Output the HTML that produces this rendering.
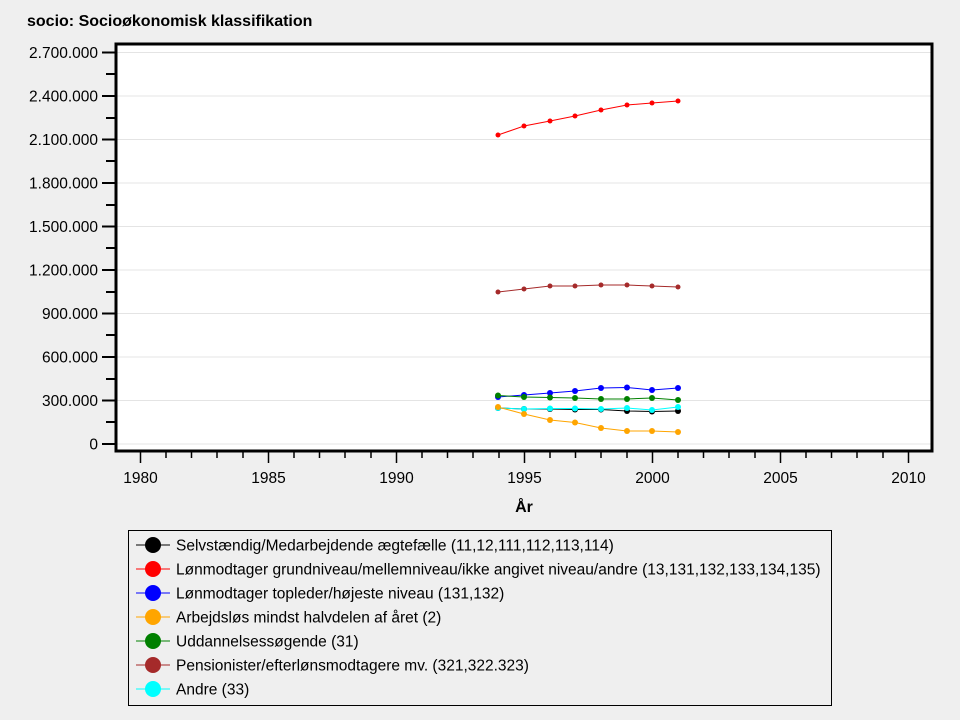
<!DOCTYPE html>
<html><head><meta charset="utf-8"><style>
body{margin:0;background:#efefef;}
svg{display:block;font-family:"Liberation Sans",Arial,sans-serif;}
</style></head><body>
<svg width="960" height="720" xmlns="http://www.w3.org/2000/svg">
<rect width="960" height="720" fill="#efefef"/>
<text x="27" y="26" font-size="16" font-weight="bold">socio: Socioøkonomisk klassifikation</text>
<rect x="116" y="44" width="816" height="407" fill="#fff"/>
<g stroke="#e4e4e4" stroke-width="1">
<line x1="117" x2="931" y1="52.5" y2="52.5"/><line x1="117" x2="931" y1="96" y2="96"/>
<line x1="117" x2="931" y1="139.5" y2="139.5"/><line x1="117" x2="931" y1="183" y2="183"/>
<line x1="117" x2="931" y1="226.5" y2="226.5"/><line x1="117" x2="931" y1="270" y2="270"/>
<line x1="117" x2="931" y1="313.5" y2="313.5"/><line x1="117" x2="931" y1="357" y2="357"/>
<line x1="117" x2="931" y1="400.5" y2="400.5"/><line x1="117" x2="931" y1="444" y2="444"/>
</g>
<rect x="116" y="44" width="816" height="407" fill="none" stroke="#000" stroke-width="3"/>
<g stroke="#000" stroke-width="2">
<line x1="102" x2="115" y1="52.5" y2="52.5"/><line x1="106" x2="115" y1="74" y2="74"/>
<line x1="102" x2="115" y1="96" y2="96"/><line x1="106" x2="115" y1="118" y2="118"/>
<line x1="102" x2="115" y1="139.5" y2="139.5"/><line x1="106" x2="115" y1="161" y2="161"/>
<line x1="102" x2="115" y1="183" y2="183"/><line x1="106" x2="115" y1="205" y2="205"/>
<line x1="102" x2="115" y1="226.5" y2="226.5"/><line x1="106" x2="115" y1="248" y2="248"/>
<line x1="102" x2="115" y1="270" y2="270"/><line x1="106" x2="115" y1="292" y2="292"/>
<line x1="102" x2="115" y1="313.5" y2="313.5"/><line x1="106" x2="115" y1="335" y2="335"/>
<line x1="102" x2="115" y1="357" y2="357"/><line x1="106" x2="115" y1="379" y2="379"/>
<line x1="102" x2="115" y1="400.5" y2="400.5"/><line x1="106" x2="115" y1="422" y2="422"/>
<line x1="102" x2="115" y1="444" y2="444"/>
</g>
<g font-size="15.5" text-anchor="end">
<text x="98" y="58">2.700.000</text><text x="98" y="101.5">2.400.000</text>
<text x="98" y="145">2.100.000</text><text x="98" y="188.5">1.800.000</text>
<text x="98" y="232">1.500.000</text><text x="98" y="275.5">1.200.000</text>
<text x="98" y="319">900.000</text><text x="98" y="362.5">600.000</text>
<text x="98" y="406">300.000</text><text x="98" y="449.5">0</text>
</g>
<g stroke="#000" stroke-width="1.5">
<line x1="140.5" x2="140.5" y1="452" y2="463"/><line x1="268.5" x2="268.5" y1="452" y2="463"/>
<line x1="396.5" x2="396.5" y1="452" y2="463"/><line x1="524.5" x2="524.5" y1="452" y2="463"/>
<line x1="652.5" x2="652.5" y1="452" y2="463"/><line x1="780.5" x2="780.5" y1="452" y2="463"/>
<line x1="908.5" x2="908.5" y1="452" y2="463"/>
<path d="M166 452v6M191.5 452v6M217 452v6M243 452v6M294 452v6M319.5 452v6M345 452v6M371 452v6M422 452v6M447.5 452v6M473 452v6M499 452v6M550 452v6M575.5 452v6M601 452v6M627 452v6M678 452v6M703.5 452v6M729 452v6M755 452v6M806 452v6M831.5 452v6M857 452v6M883 452v6"/>
</g>
<g font-size="15.5" text-anchor="middle">
<text x="140.5" y="483">1980</text><text x="268.5" y="483">1985</text><text x="396.5" y="483">1990</text>
<text x="524.5" y="483">1995</text><text x="652.5" y="483">2000</text><text x="780.5" y="483">2005</text><text x="908.5" y="483">2010</text>
</g>
<text x="524" y="512" font-size="16" font-weight="bold" text-anchor="middle">År</text>
<g fill="none" stroke-width="1">
<polyline stroke="#f00" points="498,135 524,126 550,121 575,116 601,110 627,105 652,103 678,101"/>
<polyline stroke="#a52a2a" points="498,292 524,289 550,286 575,286 601,285 627,285 652,286 678,287"/>
<polyline stroke="#00f" points="498,397 524,395 550,393 575,391 601,388 627,387.5 652,390 678,388"/>
<polyline stroke="#008000" points="498,395.5 524,397 550,397.5 575,398 601,399 627,399 652,398 678,400"/>
<polyline stroke="#000" points="498,408 524,409 550,409 575,409.5 601,409.5 627,411 652,411.5 678,411"/>
<polyline stroke="#0ff" points="498,408 524,409 550,408.5 575,408.5 601,409 627,408 652,410 678,407"/>
<polyline stroke="#ffa500" points="498,407 524,414 550,420 575,422.5 601,428 627,431 652,431 678,432"/>
</g>
<g stroke="none">
<g fill="#f00"><circle cx="498" cy="135" r="2.5"/><circle cx="524" cy="126" r="2.5"/><circle cx="550" cy="121" r="2.5"/><circle cx="575" cy="116" r="2.5"/><circle cx="601" cy="110" r="2.5"/><circle cx="627" cy="105" r="2.5"/><circle cx="652" cy="103" r="2.5"/><circle cx="678" cy="101" r="2.5"/></g>
<g fill="#a52a2a"><circle cx="498" cy="292" r="2.5"/><circle cx="524" cy="289" r="2.5"/><circle cx="550" cy="286" r="2.5"/><circle cx="575" cy="286" r="2.5"/><circle cx="601" cy="285" r="2.5"/><circle cx="627" cy="285" r="2.5"/><circle cx="652" cy="286" r="2.5"/><circle cx="678" cy="287" r="2.5"/></g>
<g fill="#00f"><circle cx="498" cy="397" r="3"/><circle cx="524" cy="395" r="3"/><circle cx="550" cy="393" r="3"/><circle cx="575" cy="391" r="3"/><circle cx="601" cy="388" r="3"/><circle cx="627" cy="387.5" r="3"/><circle cx="652" cy="390" r="3"/><circle cx="678" cy="388" r="3"/></g>
<g fill="#008000"><circle cx="498" cy="395.5" r="3"/><circle cx="524" cy="397" r="3"/><circle cx="550" cy="397.5" r="3"/><circle cx="575" cy="398" r="3"/><circle cx="601" cy="399" r="3"/><circle cx="627" cy="399" r="3"/><circle cx="652" cy="398" r="3"/><circle cx="678" cy="400" r="3"/></g>
<g fill="#000"><circle cx="498" cy="408" r="3"/><circle cx="524" cy="409" r="3"/><circle cx="550" cy="409" r="3"/><circle cx="575" cy="409.5" r="3"/><circle cx="601" cy="409.5" r="3"/><circle cx="627" cy="411" r="3"/><circle cx="652" cy="411.5" r="3"/><circle cx="678" cy="411" r="3"/></g>
<g fill="#0ff"><circle cx="498" cy="408" r="3"/><circle cx="524" cy="409" r="3"/><circle cx="550" cy="408.5" r="3"/><circle cx="575" cy="408.5" r="3"/><circle cx="601" cy="409" r="3"/><circle cx="627" cy="408" r="3"/><circle cx="652" cy="410" r="3"/><circle cx="678" cy="407" r="3"/></g>
<g fill="#ffa500"><circle cx="498" cy="407" r="3"/><circle cx="524" cy="414" r="3"/><circle cx="550" cy="420" r="3"/><circle cx="575" cy="422.5" r="3"/><circle cx="601" cy="428" r="3"/><circle cx="627" cy="431" r="3"/><circle cx="652" cy="431" r="3"/><circle cx="678" cy="432" r="3"/></g>
</g>
<rect x="128.5" y="530.5" width="703" height="175" fill="none" stroke="#000" stroke-width="1"/>
<g font-size="15.5">
<g transform="translate(0,545)"><line x1="136" x2="170" stroke="#000"/><circle cx="153" r="8" fill="#000"/><text x="176" y="5.5">Selvstændig/Medarbejdende ægtefælle (11,12,111,112,113,114)</text></g>
<g transform="translate(0,569)"><line x1="136" x2="170" stroke="#f00"/><circle cx="153" r="8" fill="#f00"/><text x="176" y="5.5">Lønmodtager grundniveau/mellemniveau/ikke angivet niveau/andre (13,131,132,133,134,135)</text></g>
<g transform="translate(0,593)"><line x1="136" x2="170" stroke="#00f"/><circle cx="153" r="8" fill="#00f"/><text x="176" y="5.5">Lønmodtager topleder/højeste niveau (131,132)</text></g>
<g transform="translate(0,617)"><line x1="136" x2="170" stroke="#ffa500"/><circle cx="153" r="8" fill="#ffa500"/><text x="176" y="5.5">Arbejdsløs mindst halvdelen af året (2)</text></g>
<g transform="translate(0,641)"><line x1="136" x2="170" stroke="#008000"/><circle cx="153" r="8" fill="#008000"/><text x="176" y="5.5">Uddannelsessøgende (31)</text></g>
<g transform="translate(0,665)"><line x1="136" x2="170" stroke="#a52a2a"/><circle cx="153" r="8" fill="#a52a2a"/><text x="176" y="5.5">Pensionister/efterlønsmodtagere mv. (321,322.323)</text></g>
<g transform="translate(0,689)"><line x1="136" x2="170" stroke="#0ff"/><circle cx="153" r="8" fill="#0ff"/><text x="176" y="5.5">Andre (33)</text></g>
</g>
</svg>
</body></html>
